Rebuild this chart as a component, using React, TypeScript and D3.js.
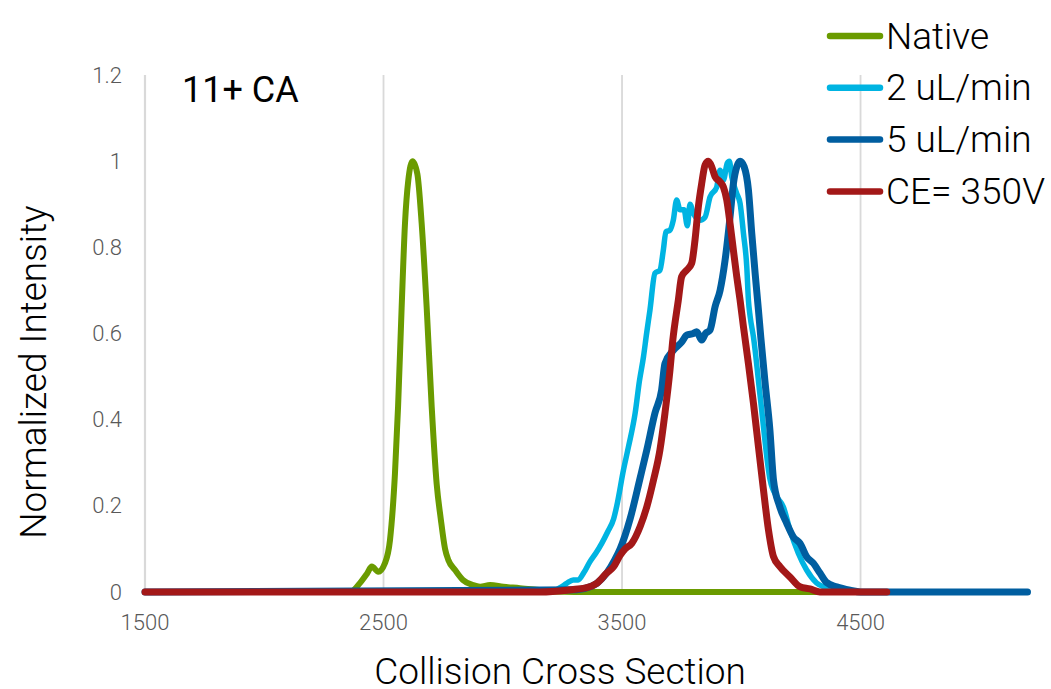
import React from "react";
import * as d3 from "d3";

// Collision cross section (x) and normalized intensity (y) for each condition
const nativeX = [1500, 2360, 2400, 2430, 2451, 2478, 2506, 2527, 2548, 2561, 2576, 2590, 2604, 2622, 2642, 2660, 2681, 2702, 2723, 2740, 2758, 2772, 2800, 2833, 2875, 2905, 2947, 3002, 3072, 3142, 3211, 3300, 4600];
const nativeY = [0, 0, 0.02, 0.042, 0.059, 0.047, 0.067, 0.12, 0.275, 0.43, 0.66, 0.855, 0.956, 1.0, 0.97, 0.855, 0.66, 0.43, 0.25, 0.17, 0.1, 0.074, 0.051, 0.028, 0.016, 0.012, 0.016, 0.012, 0.009, 0.005, 0.001, 0, 0];

const flow2X = [1500, 3198, 3240, 3268, 3295, 3316, 3340, 3365, 3390, 3415, 3440, 3465, 3478, 3506, 3527, 3555, 3573, 3590, 3603, 3617, 3638, 3659, 3673, 3684, 3701, 3715, 3729, 3743, 3760, 3774, 3785, 3799, 3827, 3848, 3869, 3897, 3911, 3925, 3941, 3950, 3960, 3981, 3995, 4009, 4023, 4030, 4037, 4051, 4080, 4121, 4150, 4176, 4204, 4239, 4274, 4316, 4358, 4400, 4600];
const flow2Y = [0, 0, 0.01, 0.02, 0.028, 0.028, 0.045, 0.07, 0.09, 0.113, 0.14, 0.17, 0.2, 0.283, 0.337, 0.415, 0.49, 0.546, 0.6, 0.654, 0.74, 0.747, 0.793, 0.836, 0.84, 0.863, 0.91, 0.887, 0.887, 0.85, 0.9, 0.879, 0.863, 0.87, 0.917, 0.94, 0.979, 0.956, 0.995, 1.0, 0.964, 0.925, 0.902, 0.833, 0.755, 0.677, 0.64, 0.592, 0.45, 0.26, 0.22, 0.198, 0.144, 0.09, 0.051, 0.021, 0.009, 0, 0];

const flow5X = [1500, 3310, 3366, 3394, 3436, 3470, 3492, 3534, 3576, 3604, 3638, 3666, 3680, 3715, 3750, 3771, 3799, 3813, 3834, 3850, 3869, 3890, 3911, 3932, 3953, 3967, 3981, 3995, 4012, 4030, 4044, 4058, 4072, 4082, 4099, 4120, 4135, 4160, 4190, 4218, 4246, 4274, 4302, 4330, 4358, 4400, 4456, 4500, 5200];
const flow5Y = [0, 0.005, 0.012, 0.02, 0.044, 0.075, 0.1, 0.17, 0.265, 0.33, 0.415, 0.469, 0.53, 0.561, 0.58, 0.596, 0.6, 0.604, 0.585, 0.6, 0.608, 0.662, 0.7, 0.77, 0.871, 0.948, 0.987, 1.0, 0.987, 0.933, 0.832, 0.74, 0.654, 0.59, 0.49, 0.376, 0.26, 0.2, 0.16, 0.128, 0.113, 0.082, 0.067, 0.044, 0.022, 0.012, 0.004, 0, 0];

const ce350X = [1500, 3156, 3268, 3296, 3352, 3394, 3436, 3464, 3492, 3513, 3541, 3576, 3604, 3632, 3659, 3680, 3701, 3712, 3736, 3750, 3771, 3792, 3806, 3820, 3834, 3848, 3862, 3876, 3890, 3911, 3925, 3939, 3953, 3967, 3981, 3995, 4009, 4030, 4051, 4072, 4093, 4114, 4135, 4162, 4204, 4246, 4288, 4330, 4610];
const ce350Y = [0, 0, 0.004, 0.006, 0.01, 0.02, 0.044, 0.058, 0.085, 0.1, 0.113, 0.152, 0.198, 0.26, 0.33, 0.415, 0.515, 0.58, 0.677, 0.732, 0.747, 0.763, 0.817, 0.894, 0.948, 0.991, 1.0, 0.987, 0.964, 0.952, 0.94, 0.91, 0.855, 0.793, 0.732, 0.677, 0.616, 0.53, 0.438, 0.337, 0.237, 0.144, 0.082, 0.059, 0.035, 0.012, 0.007, 0, 0];

const seriesNames = ["Native", "2 uL/min", "5 uL/min", "CE= 350V"];
const seriesColors = ["#6a9b00", "#00b4e2", "#005ea0", "#a31818"];
const seriesWidths = [6, 5.5, 7, 7];

const xTicks = [1500, 2500, 3500, 4500];
const yTicks = [0, 0.2, 0.4, 0.6, 0.8, 1, 1.2];

const W = 1051;
const H = 689;
const FONT = "Roboto, 'Open Sans', sans-serif";

export default function App() {
  const x = d3.scaleLinear().domain([1500, 5200]).range([145, 1027.5]);
  const y = d3.scaleLinear().domain([0, 1.2]).range([592, 75]);

  const series = [
    { xs: nativeX, ys: nativeY },
    { xs: flow2X, ys: flow2Y },
    { xs: flow5X, ys: flow5Y },
    { xs: ce350X, ys: ce350Y },
  ];

  const line = d3
    .line<[number, number]>()
    .x((d) => x(d[0]))
    .y((d) => y(d[1]))
    .curve(d3.curveMonotoneX);

  const fmtY = (v: number) => (v === 0 ? "0" : Number.isInteger(v) ? String(v) : v.toFixed(1));

  return (
    <svg
      width={W}
      height={H}
      style={{ position: "absolute", left: 0, top: 0, background: "#fff" }}
      fontFamily={FONT}
    >
      {/* vertical gridlines */}
      {xTicks.map((t) => (
        <line
          key={"g" + t}
          x1={x(t)}
          x2={x(t)}
          y1={y(1.2)}
          y2={y(0)}
          stroke="#d9d9d9"
          strokeWidth={t === 1500 ? 2.2 : 1.8}
        />
      ))}

      {/* y tick labels */}
      {yTicks.map((t) => (
        <text
          key={"y" + t}
          x={122}
          y={y(t)}
          textAnchor="end"
          dominantBaseline="central"
          fontSize={22}
          fontWeight={300}
          fill="#595959"
        >
          {fmtY(t)}
        </text>
      ))}

      {/* x tick labels */}
      {xTicks.map((t) => (
        <text
          key={"x" + t}
          x={x(t)}
          y={622}
          textAnchor="middle"
          dominantBaseline="central"
          fontSize={22}
          fontWeight={300}
          fill="#595959"
        >
          {t}
        </text>
      ))}

      {/* data lines */}
      {series.map((s, i) => (
        <path
          key={"s" + i}
          d={line(s.xs.map((v, j) => [v, s.ys[j]] as [number, number])) || ""}
          fill="none"
          stroke={seriesColors[i]}
          strokeWidth={seriesWidths[i]}
          strokeLinejoin="round"
          strokeLinecap="round"
        />
      ))}

      {/* axis titles */}
      <text
        x={560}
        y={684}
        textAnchor="middle"
        fontSize={37}
        fontWeight={300}
        fill="#000"
      >
        Collision Cross Section
      </text>
      <text
        transform={`translate(33,${372}) rotate(-90)`}
        textAnchor="middle"
        dominantBaseline="central"
        fontSize={37}
        fontWeight={300}
        fill="#000"
      >
        Normalized Intensity
      </text>

      {/* panel label */}
      <text x={182} y={102} fontSize={36} fontWeight={400} fill="#000">
        11+ CA
      </text>

      {/* legend */}
      {seriesNames.map((n, i) => {
        const ly = 36 + i * 51.8;
        return (
          <g key={"l" + i}>
            <line
              x1={830}
              x2={880}
              y1={ly}
              y2={ly}
              stroke={seriesColors[i]}
              strokeWidth={6.5}
              strokeLinecap="round"
            />
            <text
              x={886}
              y={ly}
              dominantBaseline="central"
              fontSize={37}
              fontWeight={300}
              fill="#000"
            >
              {n}
            </text>
          </g>
        );
      })}
    </svg>
  );
}
